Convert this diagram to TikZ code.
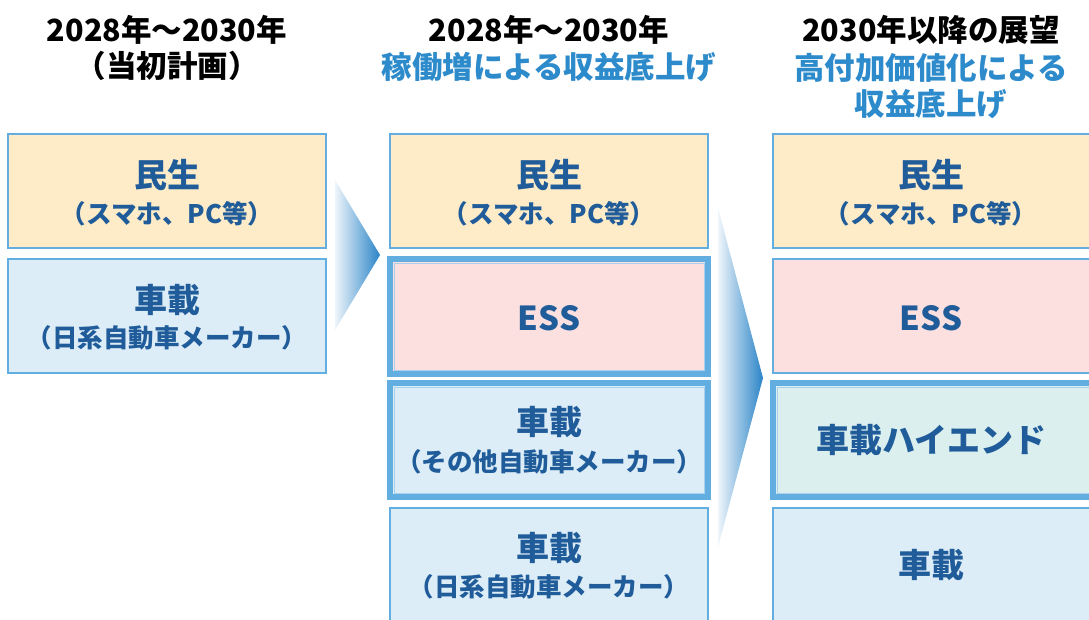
\documentclass[tikz,border=0pt]{standalone}
\usepackage{fontspec}
\setmainfont{Noto Sans CJK JP}
\definecolor{bordblue}{HTML}{62AEE0}
\definecolor{innerblue}{HTML}{A9D1EE}
\definecolor{fillorange}{HTML}{FEEBC8}
\definecolor{fillpink}{HTML}{FCE0E0}
\definecolor{fillblue}{HTML}{DDEDF8}
\definecolor{fillteal}{HTML}{DBEFEE}
\definecolor{textblue}{HTML}{1F5C99}
\definecolor{headblue}{HTML}{2D8BCB}
\definecolor{arrowblue}{HTML}{2A84C7}
\tikzset{
  thinbox/.style={draw=bordblue, line width=2pt},
  thickbox/.style={draw=bordblue, line width=6pt},
  innerline/.style={draw=innerblue, line width=1pt},
  head/.style={font=\bfseries\fontsize{30.5}{34}\selectfont, text=black, inner sep=0pt},
  headb/.style={font=\bfseries\fontsize{30.5}{34}\selectfont, text=headblue, inner sep=0pt},
  big/.style={font=\bfseries\fontsize{33}{37}\selectfont, text=textblue, inner sep=0pt},
  small/.style={font=\bfseries\fontsize{25.5}{29}\selectfont, text=textblue, inner sep=0pt},
  arrowshade/.style={left color=arrowblue!8, right color=arrowblue, draw=none}
}
\begin{document}
\begin{tikzpicture}[x=1pt,y=-1pt]
\useasboundingbox (0,0) rectangle (1089,619);
\clip (0,0) rectangle (1089,619);
\fill[white] (0,0) rectangle (1089,619);

% headers
\node[head] (h1a) at (167,30) {2028年～2030年};
\node[head] (h1b) at (167,66) {（当初計画）};
\node[head] (h2a) at (549,30) {2028年～2030年};
\node[headb] (h2b) at (549,67) {稼働増による収益底上げ};
\node[head] (h3a) at (931,30) {2030年以降の展望};
\node[headb] (h3b) at (931,68) {高付加価値化による};
\node[headb] (h3c) at (931,104) {収益底上げ};

% column 1
\filldraw[thinbox, fill=fillorange] (8,134) rectangle (326,248);
\node[big] (c1a) at (167,175) {民生};
\node[small] (c1as) at (167,214) {（スマホ、PC等）};
\filldraw[thinbox, fill=fillblue] (8,259) rectangle (326,373);
\node[big] (c1b) at (167,300) {車載};
\node[small] (c1bs) at (167,338) {（日系自動車メーカー）};

% column 2
\filldraw[thinbox, fill=fillorange] (390,134) rectangle (708,248);
\node[big] (c2a) at (549,175) {民生};
\node[small] (c2as) at (549,214) {（スマホ、PC等）};
\filldraw[thickbox, fill=fillpink] (390,259) rectangle (708,374);
\draw[innerline] (394,263) rectangle (704,370);
\node[big] (c2b) at (549,318) {ESS};
\filldraw[thickbox, fill=fillblue] (390,383) rectangle (708,497);
\draw[innerline] (394,387) rectangle (704,493);
\node[big] (c2c) at (549,422) {車載};
\node[small] (c2cs) at (549,462) {（その他自動車メーカー）};
\filldraw[thinbox, fill=fillblue] (390,508) rectangle (708,640);
\node[big] (c2d) at (549,548) {車載};
\node[small] (c2ds) at (549,587) {（日系自動車メーカー）};

% column 3
\filldraw[thinbox, fill=fillorange] (773,134) rectangle (1095,248);
\node[big] (c3a) at (931,175) {民生};
\node[small] (c3as) at (931,214) {（スマホ、PC等）};
\filldraw[thinbox, fill=fillpink] (773,259) rectangle (1095,373);
\node[big] (c3b) at (931,318) {ESS};
\filldraw[thickbox, fill=fillteal] (773,383) rectangle (1095,497);
\draw[innerline] (777,387) rectangle (1100,493);
\node[big] (c3c) at (931,440) {車載ハイエンド};
\filldraw[thinbox, fill=fillblue] (773,508) rectangle (1095,640);
\node[big] (c3d) at (931,565) {車載};

% arrows
\shade[arrowshade] (335,180) -- (380,255) -- (335,330) -- cycle;
\shade[arrowshade] (718,208) -- (763,378) -- (718,547) -- cycle;
\end{tikzpicture}
\end{document}
